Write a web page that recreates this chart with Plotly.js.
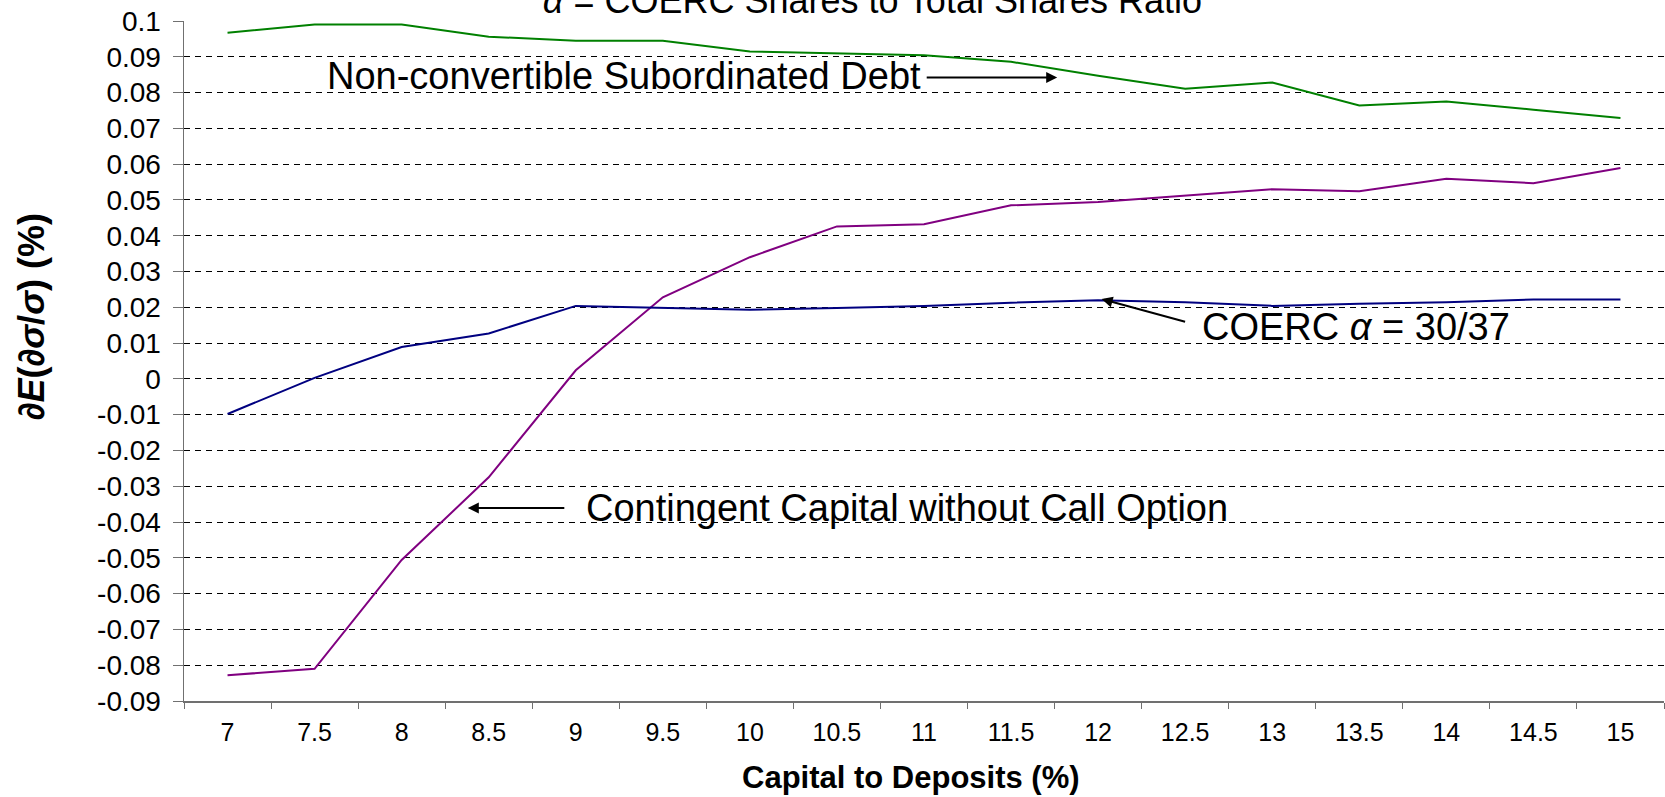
<!DOCTYPE html>
<html><head><meta charset="utf-8">
<script src="https://cdn.plot.ly/plotly-3.0.1.min.js"></script>
<style>html,body{margin:0;padding:0;background:#fff}#chart{width:1665px;height:797px}</style>
</head><body><div id="chart"></div>
<script>
const categories = ['7','7.5','8','8.5','9','9.5','10','10.5','11','11.5','12','12.5','13','13.5','14','14.5','15'];
const nonConvertibleDebt = [0.0967,0.0990,0.0990,0.0956,0.0945,0.0945,0.0915,0.0909,0.0904,0.0886,0.0847,0.0811,0.0828,0.0764,0.0775,0.0752,0.0729];
const contingentCapital = [-0.0828,-0.0810,-0.0506,-0.0275,0.0024,0.0228,0.0340,0.0426,0.0432,0.0485,0.0494,0.0512,0.0530,0.0524,0.0559,0.0547,0.0589];
const coercSeries = [-0.0098,0.0003,0.0089,0.0127,0.0204,0.0198,0.0193,0.0198,0.0204,0.0213,0.0220,0.0214,0.0204,0.0210,0.0214,0.0222,0.0222];
const yTickVals = [0.1,0.09,0.08,0.07,0.06,0.05,0.04,0.03,0.02,0.01,0,-0.01,-0.02,-0.03,-0.04,-0.05,-0.06,-0.07,-0.08,-0.09];
const yTickText = ['0.1','0.09','0.08','0.07','0.06','0.05','0.04','0.03','0.02','0.01','0','-0.01','-0.02','-0.03','-0.04','-0.05','-0.06','-0.07','-0.08','-0.09'];
const titleText = '<i>α</i> = COERC Shares to Total Shares Ratio';
const xTitle = 'Capital to Deposits (%)';
const yTitle = '<b>∂<i>E</i>(∂<i>σ</i>/<i>σ</i>) (%)</b>';
const labelNonConv = 'Non-convertible Subordinated Debt';
const labelCoerc = 'COERC <i>α</i> = 30/37';
const labelContingent = 'Contingent Capital without Call Option';

const FONT = 'Liberation Sans, Arial, sans-serif';
const traces = [
  {x: categories, y: nonConvertibleDebt, type: 'scatter', mode: 'lines', name: 'Non-convertible Subordinated Debt', line: {color: '#008000', width: 2}},
  {x: categories, y: contingentCapital, type: 'scatter', mode: 'lines', name: 'Contingent Capital without Call Option', line: {color: '#800080', width: 2}},
  {x: categories, y: coercSeries, type: 'scatter', mode: 'lines', name: 'COERC α = 30/37', line: {color: '#000080', width: 2}}
];
const arrowStyle = {showarrow: true, arrowhead: 2, arrowsize: 1.1, arrowwidth: 2, arrowcolor: '#000', text: '', xref: 'x', yref: 'y', axref: 'pixel', ayref: 'pixel'};
const layout = {
  width: 1665, height: 797,
  margin: {l: 184, r: 1, t: 21, b: 96},
  paper_bgcolor: '#fff', plot_bgcolor: '#fff',
  showlegend: false,
  font: {family: FONT, color: '#000'},
  title: {text: titleText, font: {size: 36, family: FONT, color: '#000'}, xref: 'container', yref: 'container', x: 0.524, xanchor: 'center', y: 1, yanchor: 'middle'},
  xaxis: {
    type: 'category', range: [-0.5, 16.5], tickson: 'boundaries', ticks: 'outside', ticklen: 6, tickcolor: '#707070', tickwidth: 1,
    showline: true, linecolor: '#707070', linewidth: 1.5, showgrid: false, zeroline: false,
    tickfont: {size: 25, family: FONT, color: '#000'}, ticklabelstandoff: 8
  },
  yaxis: {
    range: [-0.09, 0.1], tickmode: 'array', tickvals: yTickVals, ticktext: yTickText,
    ticks: 'outside', ticklen: 10, tickcolor: '#707070', tickwidth: 1,
    showline: true, linecolor: '#707070', linewidth: 1.5, zeroline: false,
    showgrid: true, gridcolor: '#000', gridwidth: 1, griddash: '6px,5px',
    tickfont: {size: 28, family: FONT, color: '#000'}, ticklabelstandoff: 6
  },
  annotations: [
    {text: yTitle, xref: 'paper', yref: 'paper', x: -0.103, y: 0.565, textangle: -90, showarrow: false, xanchor: 'center', yanchor: 'middle', font: {size: 36, family: FONT, color: '#000'}},
    {text: '<b>' + xTitle + '</b>', xref: 'paper', yref: 'paper', x: 0.491, y: -0.112, showarrow: false, xanchor: 'center', yanchor: 'middle', borderpad: 0, font: {size: 31, family: FONT, color: '#000'}},
    {text: labelNonConv, xref: 'x', yref: 'y', x: 1.12, y: 0.0845, xanchor: 'left', yanchor: 'middle', showarrow: false, font: {size: 38, family: FONT, color: '#000'}},
    {text: labelCoerc, xref: 'x', yref: 'y', x: 11.17, y: 0.0146, xanchor: 'left', yanchor: 'middle', showarrow: false, font: {size: 38, family: FONT, color: '#000'}},
    {text: labelContingent, xref: 'x', yref: 'y', x: 4.1, y: -0.0361, xanchor: 'left', yanchor: 'middle', showarrow: false, font: {size: 38, family: FONT, color: '#000'}},
    Object.assign({}, arrowStyle, {x: 9.53, y: 0.0842, ax: -132, ay: 0}),
    Object.assign({}, arrowStyle, {x: 10.04, y: 0.0223, ax: 85, ay: 23}),
    Object.assign({}, arrowStyle, {x: 2.76, y: -0.0361, ax: 98, ay: 0})
  ]
};
Plotly.newPlot('chart', traces, layout, {displayModeBar: false, staticPlot: true});
</script></body></html>
